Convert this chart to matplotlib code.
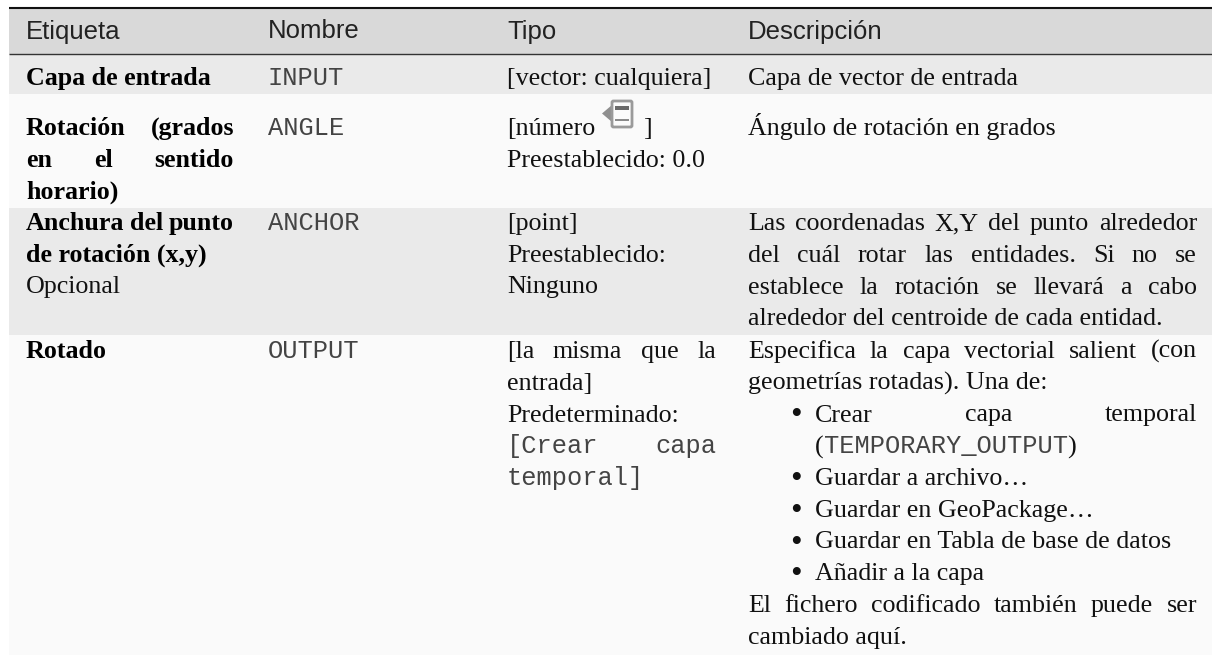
import matplotlib
matplotlib.use("Agg")
import matplotlib.pyplot as plt
from matplotlib.patches import Rectangle, Polygon, FancyBboxPatch

W, H, DPI = 1212, 655, 100
HEADERS = ["Etiqueta", "Nombre", "Tipo", "Descripción"]
COL_X = [26, 268, 507, 748]
COL_R = [234, 490, 716, 1197]
BULLET_X, BULLET_TEXT_X = 790, 815
PITCH = 31.75

# styles: b=bold serif, r=serif, m=mono; J=justified; "*"=bullet item
ROW_TOPS = [54, 94, 208, 335, 655]
ROW_BASE = [85, 135, 230, 358]
ROW_COLORS = ["#eaeaea", "#fafafa", "#eaeaea", "#fafafa"]

LABELS = [
    [("Capa de entrada", "b", "")],
    [("Rotación (grados", "b", "J"), ("en el sentido", "b", "J"), ("horario)", "b", "")],
    [("Anchura del punto", "b", "J"), ("de rotación (x,y)", "b", ""), ("Opcional", "r", "")],
    [("Rotado", "b", "")],
]
NAMES = ["INPUT", "ANGLE", "ANCHOR", "OUTPUT"]
TYPES = [
    [("[vector: cualquiera]", "r", "")],
    [("[número", "r", ""), ("Preestablecido: 0.0", "r", "")],
    [("[point]", "r", ""), ("Preestablecido:", "r", ""), ("Ninguno", "r", "")],
    [("[la misma que la", "r", "J"), ("entrada]", "r", ""), ("Predeterminado:", "r", ""),
     ("[Crear capa", "m", "J"), ("temporal]", "m", "")],
]
DESCS = [
    [("Capa de vector de entrada", "r", "")],
    [("Ángulo de rotación en grados", "r", "")],
    [("Las coordenadas X,Y del punto alrededor", "r", "J"),
     ("del cuál rotar las entidades. Si no se", "r", "J"),
     ("establece la rotación se llevará a cabo", "r", "J"),
     ("alrededor del centroide de cada entidad.", "r", "")],
    [("Especifica la capa vectorial salient (con", "r", "J"),
     ("geometrías rotadas). Una de:", "r", ""),
     ("Crear capa temporal", "r", "*J"),
     ("TEMPORARY_OUTPUT", "m", "()"),
     ("Guardar a archivo…", "r", "*"),
     ("Guardar en GeoPackage…", "r", "*"),
     ("Guardar en Tabla de base de datos", "r", "*"),
     ("Añadir a la capa", "r", "*"),
     ("El fichero codificado también puede ser", "r", "J"),
     ("cambiado aquí.", "r", "")],
]

FONT = {
    "b": dict(family="Liberation Serif", weight="bold", size=18.7, color="#000000"),
    "r": dict(family="Liberation Serif", size=18.7, color="#111111"),
    "m": dict(family="Liberation Mono", size=18.3, color="#444444"),
    "h": dict(family="Liberation Sans", size=18.5, color="#222222"),
}

fig = plt.figure(figsize=(W / DPI, H / DPI), dpi=DPI, facecolor="white")
ax = fig.add_axes([0, 0, 1, 1])
ax.set_xlim(0, W)
ax.set_ylim(H, 0)
ax.axis("off")
rend = fig.canvas.get_renderer()


def put(x, y, s, st):
    return ax.text(x, y, s, va="baseline", ha="left", **FONT[st])


def width(s, st):
    t = put(0, 0, s, st)
    w = t.get_window_extent(rend).width
    t.remove()
    return w


def adv(s, st):
    # advance width, including spaces between words
    return width("x" + s + "x", st) - width("xx", st)


def draw_line(x, right, y, s, st, flags):
    if "*" in flags:
        ax.text(BULLET_X, y + 3, "•", va="baseline", ha="left",
                family="Liberation Serif", size=24, color="#111111")
        x = BULLET_TEXT_X
    if "(" in flags:
        x = BULLET_TEXT_X
        put(x, y, "(", "r")
        x += adv("(", "r")
        put(x, y, s, st)
        x += adv(s, st)
        put(x, y, ")", "r")
        return
    if "J" in flags:
        words = s.split(" ")
        ws = [adv(w, st) for w in words]
        gap = (right - x - sum(ws)) / (len(words) - 1)
        cx = x
        for w, a in zip(words, ws):
            put(cx, y, w, st)
            cx += a + gap
    else:
        put(x, y, s, st)


# backgrounds
ax.add_patch(Rectangle((9, 8), W - 9, 46, fc="#d9d9d9", ec="none", zorder=0))
for i, c in enumerate(ROW_COLORS):
    ax.add_patch(Rectangle((9, ROW_TOPS[i]), W - 9, ROW_TOPS[i + 1] - ROW_TOPS[i],
                           fc=c, ec="none", zorder=0))
ax.plot([9, W], [8, 8], color="#111111", lw=1.5, solid_capstyle="butt")
ax.plot([9, W], [53.5, 53.5], color="#333333", lw=1.0, solid_capstyle="butt")

# header
for x, h in zip(COL_X, HEADERS):
    put(x, 38.5, h, "h")

# body
for i, base in enumerate(ROW_BASE):
    for n, (s, st, fl) in enumerate(LABELS[i]):
        draw_line(COL_X[0], COL_R[0], base + n * PITCH, s, st, fl)
    put(COL_X[1], base, NAMES[i], "m")
    for n, (s, st, fl) in enumerate(TYPES[i]):
        draw_line(COL_X[2], COL_R[2], base + n * PITCH, s, st, fl)
    for n, (s, st, fl) in enumerate(DESCS[i]):
        draw_line(COL_X[3], COL_R[3], base + n * PITCH, s, st, fl)

# the "[número <icon> ]" closing bracket and icon
put(643, ROW_BASE[1], "]", "r")
ax.add_patch(Polygon([[602, 113.5], [612, 105], [612, 122]], closed=True, fc="#8f8f8f", ec="none", zorder=2))
ax.add_patch(FancyBboxPatch((612, 101), 20, 26, boxstyle="round,pad=0,rounding_size=1.5",
                            fc="#fbfbfb", ec="#9a9a9a", lw=2.0, zorder=3))
ax.add_patch(Rectangle((615, 106), 14, 3.5, fc="#6a6a6a", ec="none", zorder=4))
ax.add_patch(Rectangle((615, 119), 14, 2, fc="#8a8a8a", ec="none", zorder=4))

fig.savefig("out.png", dpi=DPI, facecolor="white")
